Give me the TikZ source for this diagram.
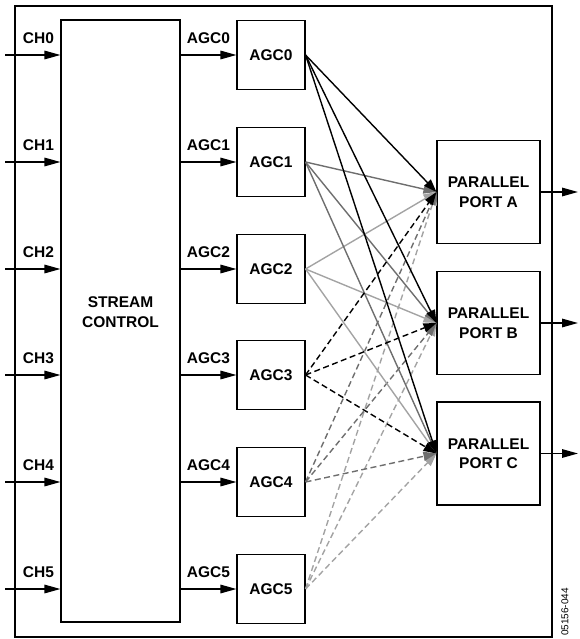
\documentclass[tikz,border=0pt]{standalone}
\usepackage{fontspec}
\setmainfont{Liberation Sans}
\usetikzlibrary{arrows.meta}
\definecolor{dg}{HTML}{6E6E6E}
\definecolor{lg}{HTML}{A3A3A3}
\begin{document}
\begin{tikzpicture}[x=1pt,y=-1pt,
  lbl/.style={font=\fontsize{15.5}{19.5}\selectfont\bfseries, inner sep=0pt, align=center},
  blk/.style={draw, line width=1.1pt, inner sep=0pt, lbl},
  sig/.style={line width=1.5pt, -{Triangle[length=16pt,width=8.5pt]}},
  lnk/.style={line width=1.4pt, -{Triangle[length=13pt,width=9pt]}},
  e0/.style={lnk, draw=black},
  e1/.style={lnk, draw=dg},
  e2/.style={lnk, draw=lg},
  e3/.style={lnk, draw=black, dash pattern=on 6pt off 3.5pt},
  e4/.style={lnk, draw=dg, dash pattern=on 6pt off 3.5pt},
  e5/.style={lnk, draw=lg, dash pattern=on 6pt off 3.5pt}]
\useasboundingbox (0,0) rectangle (579,639);
\node[draw, line width=1.1pt, minimum width=537pt, minimum height=631pt, inner sep=0pt] (frame) at (283.5,321.5) {};
\node[blk, minimum width=119pt, minimum height=602pt] (stream) at (120.5,321) {};
\node[lbl] (streamlbl) at (120.5,312) {STREAM\\CONTROL};
\foreach \i/\y in {0/55,1/162,2/269,3/375,4/482,5/589}{
  \node[blk, minimum width=68pt, minimum height=69pt] (agc\i) at (271,\y) {AGC\i};
  \coordinate (chin\i) at (5,\y);
  \node[lbl] (chl\i) at (38.5,\y-16.5) {CH\i};
  \node[lbl] (agl\i) at (208.5,\y-16.5) {AGC\i};
  \draw[sig] (chin\i) -- (stream.west |- chin\i);
  \draw[sig] (stream.east |- chin\i) -- (agc\i.west);
}
\foreach \p/\y in {A/192,B/323,C/453.5}{
  \node[blk, minimum width=103pt, minimum height=103pt] (port\p) at (488.5,\y) {PARALLEL\\PORT \p};
  \coordinate (out\p) at (578,\y);
  \draw[sig] (port\p.east) -- (out\p);
}
\foreach \i in {5,4,2,1,3,0}{
  \foreach \p in {A,B,C}{
    \draw[e\i] (agc\i.east) -- (port\p.west);
  }
}
\node[rotate=90, font=\fontsize{10}{12}\selectfont, inner sep=0pt] (code) at (565,612) {05156-044};
\end{tikzpicture}
\end{document}
